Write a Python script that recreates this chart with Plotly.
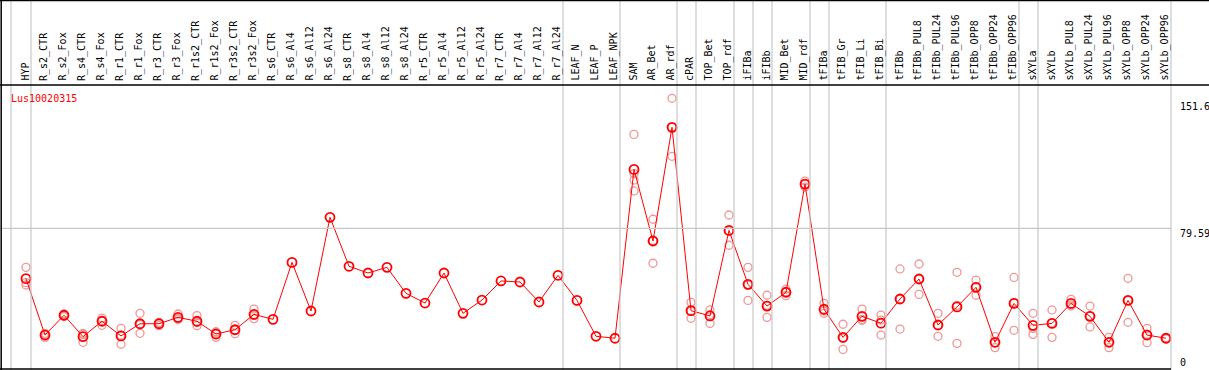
import plotly.graph_objects as go

title = "Lus10020315"
labels = ["HYP", "R_s2_CTR", "R_s2_Fox", "R_s4_CTR", "R_s4_Fox", "R_r1_CTR", "R_r1_Fox",
          "R_r3_CTR", "R_r3_Fox", "R_r1s2_CTR", "R_r1s2_Fox", "R_r3s2_CTR", "R_r3s2_Fox",
          "R_s6_CTR", "R_s6_Al4", "R_s6_Al12", "R_s6_Al24", "R_s8_CTR", "R_s8_Al4",
          "R_s8_Al12", "R_s8_Al24", "R_r5_CTR", "R_r5_Al4", "R_r5_Al12", "R_r5_Al24",
          "R_r7_CTR", "R_r7_Al4", "R_r7_Al12", "R_r7_Al24", "LEAF_N", "LEAF_P", "LEAF_NPK",
          "SAM", "AR_Bet", "AR_rdf", "cPAR", "TOP_Bet", "TOP_rdf", "iFIBa", "iFIBb",
          "MID_Bet", "MID_rdf", "tFIBa", "tFIB_Gr", "tFIB_Li", "tFIB_Bi", "tFIBb",
          "tFIBb_PUL8", "tFIBb_PUL24", "tFIBb_PUL96", "tFIBb_OPP8", "tFIBb_OPP24",
          "tFIBb_OPP96", "sXYLa", "sXYLb", "sXYLb_PUL8", "sXYLb_PUL24", "sXYLb_PUL96",
          "sXYLb_OPP8", "sXYLb_OPP24", "sXYLb_OPP96"]

means = [51.1, 19.2, 30.4, 18.3, 27.0, 18.7, 25.6, 25.6, 29.2, 27.0, 19.8, 22.2, 30.9,
         28.1, 60.3, 32.8, 85.8, 58.1, 54.3, 57.5, 42.8, 37.3, 54.3, 31.5, 39.0,
         49.8, 49.2, 37.9, 53.0, 38.8, 18.5, 17.4,
         112.9, 72.4, 136.7, 33.0, 30.0, 78.4, 47.9, 35.6, 43.4, 104.6, 33.8,
         17.9, 29.8, 25.9, 39.6, 50.9, 24.9, 35.1, 46.2, 15.1, 37.1,
         24.7, 25.8, 37.1, 29.8, 15.1, 38.8, 19.2, 17.4]

N = None
rep_a = [57.5, 20.2, 31.1, 20.2, 28.8, 23.0, 31.5, 26.4, 31.1, 30.2, 21.1, 24.7, 33.9,
         N, N, N, N, N, N, N, N, N, N, N, N, N, N, N, N, N, N, N,
         132.7, 84.7, 153.1, 37.7, 33.4, 87.1, 57.5, 41.7, 45.2, 106.3, 37.1,
         25.3, 33.9, 30.5, 56.6, 59.4, 31.5, 54.7, 50.3, 18.3, 51.8,
         31.5, 33.4, 39.4, 35.6, 17.9, 51.3, 23.0, 17.8]
rep_b = [47.5, 17.9, 29.7, 15.1, 24.7, 14.0, 20.2, 24.5, 28.0, 24.5, 17.9, 20.0, 28.5,
         N, N, N, N, N, N, N, N, N, N, N, N, N, N, N, N, N, N, N,
         100.7, 59.8, 120.3, 28.7, 25.8, 70.0, 38.8, 29.2, 41.5, 102.9, 31.5,
         11.1, 27.5, 19.2, 22.6, 42.2, 18.5, 14.5, 41.7, 12.1, 21.9,
         19.6, 17.9, 35.6, 23.8, 12.1, 26.4, 14.9, 17.0]
rep_c = [48.8, 19.6, 30.4, 19.6, 27.5, 19.1, 25.1, 25.9, 28.5, 26.3, 20.4, 22.0, 30.3,
         N, N, N, N, N, N, N, N, N, N, N, N, N, N, N, N, N, N, N,
         106.9, 72.7, 136.7, 32.6, 30.8, 78.2, 47.4, 36.0, 43.5, 104.6, 32.8,
         17.5, 28.0, 27.7, 39.6, 51.0, 24.7, 36.0, 46.6, 15.0, 37.6,
         23.0, 26.1, 36.3, 30.0, 15.3, 38.7, 19.7, 17.4]
rep_d = [None] * 32 + [110.5] + [None] * 28

tick_values = [0, 79.59, 151.6]
tick_texts = ["0", "79.59", "151.6"]

# last column index of each group (separator drawn just after it)
group_ends = [-1, 0, 28, 31, 34, 35, 37, 38, 39, 41, 42, 45, 52, 53, 60]

W, H = 1209, 370
col0_px, col_step = 26, 19
x0 = -col0_px / col_step
x1 = x0 + W / col_step
px_per_unit = 1.768
bottom_px = 369
y0 = -(H - bottom_px) / px_per_unit
y1 = bottom_px / px_per_unit

FONT = "DejaVu Sans Mono"
xs = list(range(len(labels)))

fig = go.Figure()
rep_color = "rgb(240,150,150)"
for reps in (rep_a, rep_b, rep_c, rep_d):
    fig.add_trace(go.Scatter(
        x=xs, y=reps, mode="markers",
        marker=dict(symbol="circle-open", size=8, color=rep_color, line=dict(width=1.3, color=rep_color)),
        hoverinfo="skip", showlegend=False))
fig.add_trace(go.Scatter(
    x=xs, y=means, mode="lines+markers",
    line=dict(color="#ff0000", width=1),
    marker=dict(symbol="circle-open", size=9, color="#ff0000", line=dict(width=1.8, color="#ff0000")),
    showlegend=False, hovertext=labels))

shapes = []
for g in group_ends:
    xv = g + 5 / col_step if g >= 0 else g + 4 / col_step
    shapes.append(dict(type="line", xref="x", yref="paper", x0=xv, x1=xv, y0=0, y1=1,
                       line=dict(color="#c8c8c8", width=1.2)))
right_x = 60 + 5 / col_step
shapes.append(dict(type="line", xref="x", yref="y", x0=x0, x1=right_x, y0=tick_values[1], y1=tick_values[1],
                   line=dict(color="#c8c8c8", width=1.2)))


def py(p):
    return 1 - p / H


shapes.append(dict(type="line", xref="paper", yref="paper", x0=0, x1=1, y0=py(0.5), y1=py(0.5),
                   line=dict(color="black", width=1.5)))
shapes.append(dict(type="line", xref="paper", yref="paper", x0=0, x1=1, y0=py(85), y1=py(85),
                   line=dict(color="black", width=1.5)))
shapes.append(dict(type="line", xref="paper", yref="paper", x0=0, x1=1171 / W, y0=py(369), y1=py(369),
                   line=dict(color="black", width=1.5)))
shapes.append(dict(type="line", xref="paper", yref="paper", x0=1.2 / W, x1=1.2 / W, y0=py(0), y1=py(370),
                   line=dict(color="black", width=1.5)))

annotations = []
for i, lab in enumerate(labels):
    annotations.append(dict(x=i - 1.5 / col_step, y=py(83), xref="x", yref="paper", text=lab,
                            textangle=-90, showarrow=False, xanchor="center", yanchor="bottom",
                            font=dict(family=FONT, size=10, color="black")))
annotations.append(dict(x=9 / W, y=py(91), xref="paper", yref="paper", text=title, showarrow=False,
                        xanchor="left", yanchor="top", font=dict(family=FONT, size=10, color="#ff0000")))
for v, t in zip(tick_values, tick_texts):
    if v == 0:
        annotations.append(dict(x=1178 / W, y=py(370), xref="paper", yref="paper", text=t, showarrow=False,
                                xanchor="left", yanchor="bottom", font=dict(family=FONT, size=10, color="black")))
    else:
        annotations.append(dict(x=1178 / W, y=v, xref="paper", yref="y", text=t, showarrow=False,
                                xanchor="left", yanchor="top", yshift=2,
                                font=dict(family=FONT, size=10, color="black")))

fig.update_layout(
    width=W, height=H, margin=dict(l=0, r=0, t=0, b=0),
    paper_bgcolor="white", plot_bgcolor="white",
    xaxis=dict(range=[x0, x1], visible=False, showgrid=False, zeroline=False, fixedrange=True),
    yaxis=dict(range=[y0, y1], visible=False, showgrid=False, zeroline=False, fixedrange=True),
    shapes=shapes, annotations=annotations, showlegend=False,
)
fig.write_html("out.html", config={"displayModeBar": False},
               post_script="document.body.style.margin='0';document.body.style.overflow='hidden';")
